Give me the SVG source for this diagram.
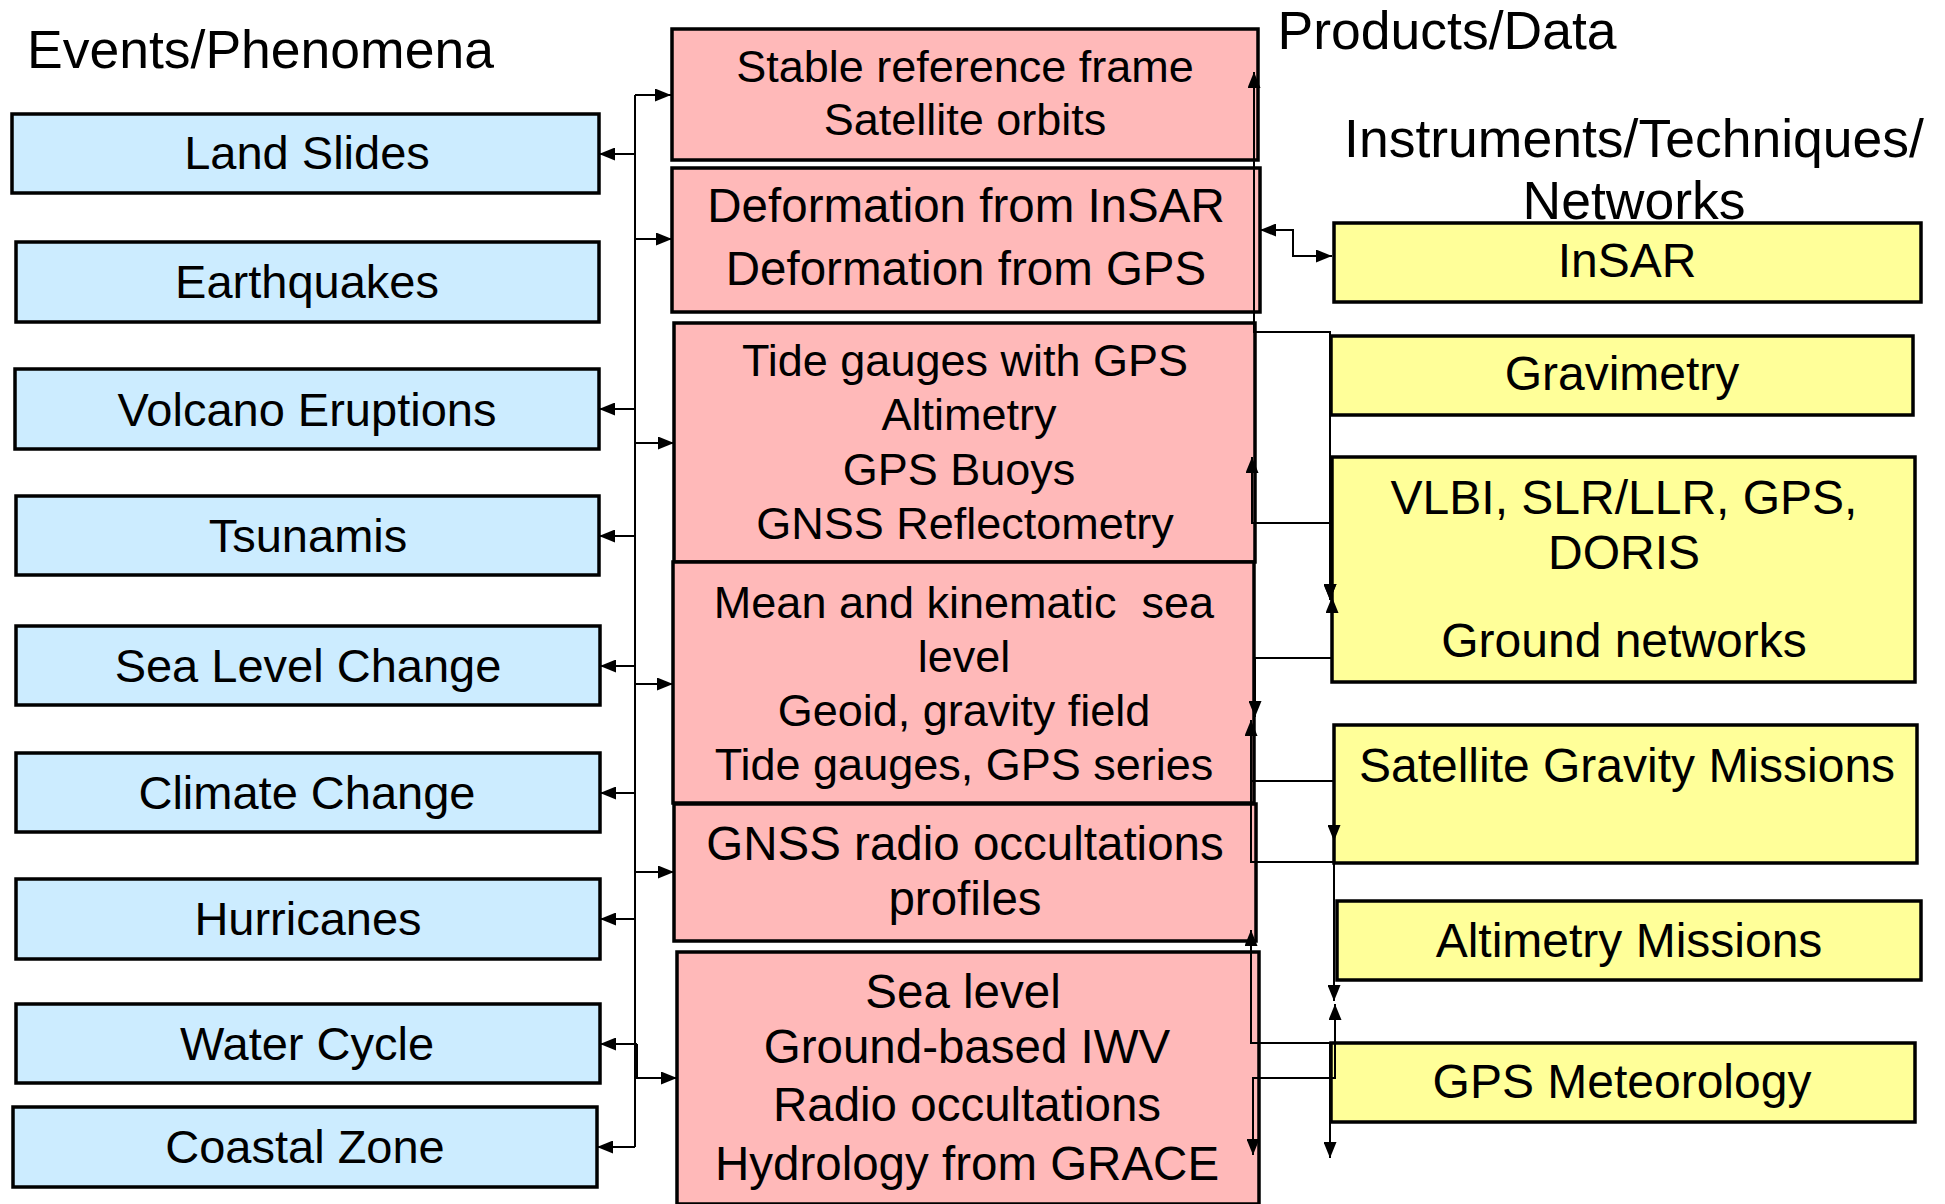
<svg xmlns="http://www.w3.org/2000/svg" width="1945" height="1204" viewBox="0 0 1945 1204">
<defs>
<marker id="ah" markerUnits="userSpaceOnUse" markerWidth="16" markerHeight="13" refX="16" refY="6.5" orient="auto-start-reverse">
<path d="M0,0 L16,6.5 L0,13 z" fill="#000"/>
</marker>
</defs>
<style>
text{font-family:"Liberation Sans",Arial,sans-serif;fill:#000;text-anchor:middle}
.title{font-size:53.5px}
.blue{fill:#CCECFF;stroke:#000;stroke-width:3.5}
.pink{fill:#FFB9B9;stroke:#000;stroke-width:3.5}
.yel{fill:#FFFF99;stroke:#000;stroke-width:3.5}
.bt{font-size:47px}
.yt{font-size:48px}
.c{fill:none;stroke:#000;stroke-width:2}
</style>
<rect width="1945" height="1204" fill="#fff"/>
<g id="titles">
<text class="title" x="27" y="68" style="text-anchor:start">Events/Phenomena</text>
<text class="title" x="1447" y="49">Products/Data</text>
<text class="title" x="1634" y="157">Instruments/Techniques/</text>
<text class="title" x="1634" y="219">Networks</text>
</g>
<g id="n-landslides"><rect class="blue" x="12" y="114" width="587" height="79"/><text class="bt" x="307" y="169">Land Slides</text></g>
<g id="n-earthquakes"><rect class="blue" x="16" y="242" width="583" height="80"/><text class="bt" x="307" y="298">Earthquakes</text></g>
<g id="n-volcano"><rect class="blue" x="15" y="369" width="584" height="80"/><text class="bt" x="307" y="426">Volcano Eruptions</text></g>
<g id="n-tsunamis"><rect class="blue" x="16" y="496" width="583" height="79"/><text class="bt" x="308" y="552">Tsunamis</text></g>
<g id="n-sealevel"><rect class="blue" x="16" y="626" width="584" height="79"/><text class="bt" x="308" y="682">Sea Level Change</text></g>
<g id="n-climate"><rect class="blue" x="16" y="753" width="584" height="79"/><text class="bt" x="307" y="809">Climate Change</text></g>
<g id="n-hurricanes"><rect class="blue" x="16" y="879" width="584" height="80"/><text class="bt" x="308" y="935">Hurricanes</text></g>
<g id="n-watercycle"><rect class="blue" x="16" y="1004" width="584" height="79"/><text class="bt" x="307" y="1060">Water Cycle</text></g>
<g id="n-coastal"><rect class="blue" x="13" y="1107" width="584" height="80"/><text class="bt" x="305" y="1163">Coastal Zone</text></g>

<g id="p-stable"><rect class="pink" x="672" y="29" width="586" height="131"/>
<text x="965" y="82" style="font-size:45px">Stable reference frame</text>
<text x="965" y="135" style="font-size:45px">Satellite orbits</text></g>
<g id="p-deformation"><rect class="pink" x="672" y="168" width="588" height="144"/>
<text x="966" y="222" style="font-size:47.5px">Deformation from InSAR</text>
<text x="966" y="285" style="font-size:47.5px">Deformation from GPS</text></g>
<g id="p-tide"><rect class="pink" x="674" y="323" width="581" height="239"/>
<text x="965" y="376" style="font-size:45px">Tide gauges with GPS</text>
<text x="969" y="430" style="font-size:45px">Altimetry</text>
<text x="959" y="485" style="font-size:45px">GPS Buoys</text>
<text x="965" y="539" style="font-size:45px">GNSS Reflectometry</text></g>
<g id="p-mean"><rect class="pink" x="673" y="562" width="581" height="241"/>
<text x="964" y="618" style="font-size:45px;white-space:pre" xml:space="preserve">Mean and kinematic  sea</text>
<text x="964" y="672" style="font-size:45px">level</text>
<text x="964" y="726" style="font-size:45px">Geoid, gravity field</text>
<text x="964" y="780" style="font-size:45px">Tide gauges, GPS series</text></g>
<g id="p-gnss"><rect class="pink" x="674" y="804" width="582" height="137"/>
<text x="965" y="860" style="font-size:47.5px">GNSS radio occultations</text>
<text x="965" y="915" style="font-size:47.5px">profiles</text></g>
<g id="p-sealevel"><rect class="pink" x="677" y="952" width="582" height="252"/>
<text x="963" y="1008" style="font-size:47.5px">Sea level</text>
<text x="967" y="1063" style="font-size:47.5px">Ground-based IWV</text>
<text x="967" y="1121" style="font-size:47.5px">Radio occultations</text>
<text x="967" y="1180" style="font-size:47.5px">Hydrology from GRACE</text></g>

<g id="y-insar"><rect class="yel" x="1334" y="223" width="587" height="79"/><text class="yt" x="1627" y="277">InSAR</text></g>
<g id="y-gravimetry"><rect class="yel" x="1331" y="336" width="582" height="79"/><text class="yt" x="1622" y="390">Gravimetry</text></g>
<g id="y-vlbi"><rect class="yel" x="1332" y="457" width="583" height="225"/>
<text class="yt" x="1624" y="514">VLBI, SLR/LLR, GPS,</text>
<text class="yt" x="1624" y="569">DORIS</text>
<text class="yt" x="1624" y="657">Ground networks</text></g>
<g id="y-satgrav"><rect class="yel" x="1334" y="725" width="583" height="138"/><text class="yt" x="1627" y="782">Satellite Gravity Missions</text></g>
<g id="y-altimetry"><rect class="yel" x="1337" y="901" width="584" height="79"/><text class="yt" x="1629" y="957">Altimetry Missions</text></g>
<g id="y-gpsmet"><rect class="yel" x="1331" y="1043" width="584" height="79"/><text class="yt" x="1622" y="1098">GPS Meteorology</text></g>

<g id="connectors">
<path class="c" d="M635,95 V1147"/>
<path class="c" d="M635,95 H671" marker-end="url(#ah)"/>
<path class="c" d="M635,239 H672" marker-end="url(#ah)"/>
<path class="c" d="M635,443 H674" marker-end="url(#ah)"/>
<path class="c" d="M635,684 H673" marker-end="url(#ah)"/>
<path class="c" d="M635,872 H674" marker-end="url(#ah)"/>
<path class="c" d="M637,1044 V1078 H677" marker-end="url(#ah)"/>
<path class="c" d="M635,154 H599" marker-end="url(#ah)"/>
<path class="c" d="M635,409 H599" marker-end="url(#ah)"/>
<path class="c" d="M635,536 H599" marker-end="url(#ah)"/>
<path class="c" d="M635,666 H600" marker-end="url(#ah)"/>
<path class="c" d="M635,793 H600" marker-end="url(#ah)"/>
<path class="c" d="M635,919 H600" marker-end="url(#ah)"/>
<path class="c" d="M637,1044 H600" marker-end="url(#ah)"/>
<path class="c" d="M635,1147 H597" marker-end="url(#ah)"/>

<path class="c" d="M1260,230 H1293 V256 H1332" marker-start="url(#ah)" marker-end="url(#ah)"/>
<path class="c" d="M1330,600 V332 H1254 V72" marker-start="url(#ah)" marker-end="url(#ah)"/>
<path class="c" d="M1252,457 V523 H1330 V600" marker-start="url(#ah)" marker-end="url(#ah)"/>
<path class="c" d="M1255,717 V658 H1332 V597" marker-start="url(#ah)" marker-end="url(#ah)"/>
<path class="c" d="M1251,720 V781 H1334 V841" marker-start="url(#ah)" marker-end="url(#ah)"/>
<path class="c" d="M1251,781 V862 H1334 V1001" marker-end="url(#ah)"/>
<path class="c" d="M1253,1155 V1078 H1335 V1004" marker-start="url(#ah)" marker-end="url(#ah)"/>
<path class="c" d="M1251,930 V1043 H1330 V1158" marker-start="url(#ah)" marker-end="url(#ah)"/>
</g>
</svg>
